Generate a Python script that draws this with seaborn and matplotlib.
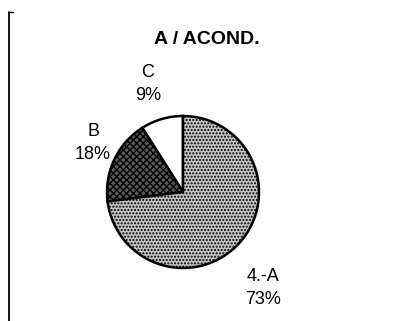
#Pie chart of the A / ACOND. shares, redrawn with seaborn styling.

#Importing libraries.
import matplotlib
matplotlib.use('Agg')
import matplotlib.pyplot as plt
import seaborn as sns

#Data (counter-clockwise from the top).
labels = ['C', 'B', '4.-A']
shares = [9, 18, 73]
title = 'A / ACOND.'

sns.set_style('white')
plt.rcParams['font.family'] = ['Liberation Sans', 'DejaVu Sans']
plt.rcParams['hatch.color'] = '#303030'
plt.rcParams['text.color'] = 'black'

fig = plt.figure(figsize=(3.98, 3.21), dpi=100)
ax = fig.add_axes([0, 0, 1, 1])

colors = ['white', '#5a5a5a', '#c4c4c4']
hatches = ['', 'xxxxx', '.....']
wedges, _ = ax.pie(shares, colors=colors, startangle=90, counterclock=True,
                   radius=1.0, wedgeprops=dict(edgecolor='black', linewidth=1.8))
for w, h in zip(wedges, hatches):
    w.set_hatch(h)

#Pie centre sits at about (183, 192) px from top-left, radius ~76 px.
px = 76.0
cx, cy = 183, 321 - 192
ax.set_xlim(-cx / px, (398 - cx) / px)
ax.set_ylim(-cy / px, (321 - cy) / px)
ax.set_aspect('equal')
ax.axis('off')

#Labels placed beside each slice (pixel positions converted to data units).
def to_data(x, y):
    return (x - cx) / px, (321 - y - cy) / px

label_pos = [(148, 84), (93, 143), (263, 288)]
for lab, val, (x, y) in zip(labels, shares, label_pos):
    dx, dy = to_data(x, y)
    ax.text(dx, dy, f'{lab}\n{val}%', ha='center', va='center',
            fontsize=13, linespacing=1.4, color='black')

tx, ty = to_data(207, 40)
ax.text(tx, ty, title, ha='center', va='center', fontsize=14,
        fontweight='bold', color='black')

#Left frame line of the scanned page.
fig.add_artist(plt.Line2D([8.5 / 398, 8.5 / 398], [0, 1 - 12 / 321],
                          color='black', linewidth=1.3))
fig.add_artist(plt.Line2D([8.5 / 398, 13 / 398], [1 - 12 / 321, 1 - 12 / 321],
                          color='black', linewidth=1.0))

fig.savefig('out.png', dpi=100)
